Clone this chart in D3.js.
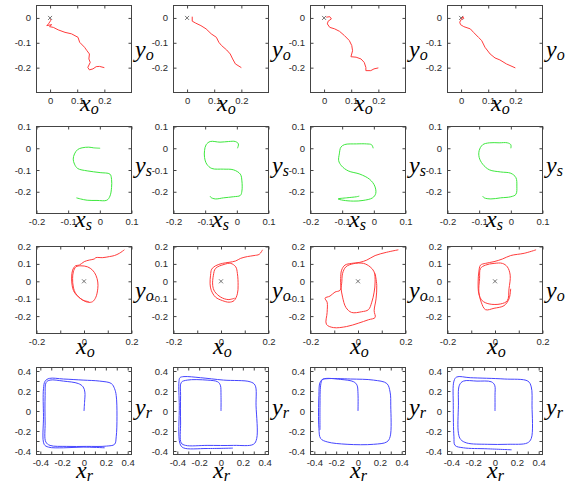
<!DOCTYPE html>
<html>
<head>
<meta charset="utf-8">
<script src="https://cdn.jsdelivr.net/npm/d3@7"></script>
<style>
  body { margin: 0; background: #fff; }
  .mathlabel { font-family: "Liberation Serif", serif; font-style: italic; }
</style>
</head>
<body>
<svg width="571" height="482"></svg>
<script>
// row 1: object position y_o vs x_o (four trials)
const objPath1 = [[0.002,-0.005],[0.002,-0.011],[-0.006,-0.024],[-0.012,-0.031],[0.006,-0.027],[-0.002,-0.035],[0.012,-0.038],[0.030,-0.048],[0.055,-0.058],[0.079,-0.064],[0.103,-0.078],[0.109,-0.098],[0.127,-0.118],[0.136,-0.132],[0.145,-0.145],[0.143,-0.165],[0.148,-0.179],[0.139,-0.199],[0.145,-0.209],[0.158,-0.205],[0.170,-0.196],[0.182,-0.195],[0.200,-0.200]];
const objPath2 = [[0.019,0.005],[0.019,-0.013],[0.032,-0.021],[0.051,-0.031],[0.070,-0.044],[0.089,-0.064],[0.108,-0.078],[0.117,-0.098],[0.127,-0.111],[0.146,-0.129],[0.159,-0.145],[0.168,-0.165],[0.178,-0.185],[0.200,-0.200]];
const objPath3 = [[0.008,0.003],[0.021,0.005],[0.027,-0.004],[0.015,-0.013],[0.012,-0.024],[0.021,-0.038],[0.039,-0.044],[0.057,-0.054],[0.075,-0.071],[0.093,-0.091],[0.102,-0.111],[0.105,-0.132],[0.099,-0.156],[0.118,-0.158],[0.136,-0.165],[0.148,-0.179],[0.154,-0.199],[0.154,-0.212],[0.172,-0.212],[0.184,-0.205],[0.200,-0.201]];
const objPath4 = [[0.010,-0.004],[0.007,0.005],[0.002,-0.004],[-0.005,-0.017],[-0.002,-0.027],[0.010,-0.035],[0.034,-0.044],[0.046,-0.058],[0.064,-0.078],[0.076,-0.091],[0.088,-0.118],[0.107,-0.145],[0.125,-0.161],[0.143,-0.169],[0.167,-0.185],[0.200,-0.201]];

// row 2: drawn shape y_s vs x_s
const shapePath1 = [[0.001,0],[-0.020,0.002],[-0.035,0.005],[-0.056,0.002],[-0.070,-0.006],[-0.080,-0.026],[-0.084,-0.050],[-0.080,-0.073],[-0.070,-0.093],[-0.040,-0.104],[0.001,-0.112],[0.032,-0.119],[0.037,-0.143],[0.037,-0.181],[0.032,-0.220],[0.022,-0.239],[-0.009,-0.240],[-0.040,-0.239],[-0.061,-0.233],[-0.074,-0.228]];
const shapePath2 = [[0.002,0],[0.005,0.020],[-0.005,0.031],[-0.026,0.031],[-0.053,0.028],[-0.084,0.031],[-0.097,0.016],[-0.102,-0.011],[-0.102,-0.042],[-0.095,-0.073],[-0.079,-0.093],[-0.042,-0.096],[-0.011,-0.099],[0.011,-0.119],[0.016,-0.150],[0.016,-0.197],[0.011,-0.217],[-0.011,-0.223],[-0.042,-0.228],[-0.068,-0.233],[-0.082,-0.226],[-0.084,-0.220]];
const shapePath3 = [[-0.002,0],[-0.007,0.016],[-0.023,0.020],[-0.055,0.020],[-0.092,0.017],[-0.104,0.005],[-0.109,-0.026],[-0.111,-0.057],[-0.102,-0.081],[-0.081,-0.104],[-0.044,-0.119],[-0.013,-0.143],[0.003,-0.174],[0.006,-0.208],[-0.004,-0.228],[-0.034,-0.240],[-0.065,-0.243],[-0.097,-0.239],[-0.113,-0.233],[-0.086,-0.228],[-0.055,-0.223],[-0.046,-0.220]];
const shapePath4 = [[0,0],[0,0.016],[-0.011,0.025],[-0.037,0.025],[-0.068,0.025],[-0.089,0.016],[-0.100,-0.011],[-0.100,-0.042],[-0.089,-0.073],[-0.068,-0.099],[-0.032,-0.109],[0,-0.115],[0.016,-0.135],[0.019,-0.174],[0.016,-0.212],[0,-0.223],[-0.032,-0.228],[-0.063,-0.233],[-0.084,-0.228],[-0.089,-0.220]];

// row 3: object position y_o vs x_o, circular motion
const loopPath1 = [[0.170,0.181],[0.149,0.161],[0.128,0.148],[0.107,0.142],[0.079,0.136],[0.050,0.136],[0.043,0.128],[0.022,0.122],[0.001,0.113],[-0.020,0.093],[-0.036,0.089],[-0.048,0.064],[-0.052,0.025],[-0.050,-0.023],[-0.041,-0.062],[-0.013,-0.101],[0.015,-0.120],[0.036,-0.117],[0.050,-0.091],[0.058,-0.043],[0.058,-0.004],[0.050,0.035],[0.036,0.064],[0.015,0.083],[-0.013,0.089],[-0.034,0.083],[-0.045,0.054],[-0.048,0.016],[-0.045,-0.033],[-0.034,-0.072],[-0.006,-0.107],[0.020,-0.117]];
const loopPath2 = [[0.175,0.181],[0.161,0.155],[0.139,0.148],[0.111,0.142],[0.083,0.132],[0.062,0.117],[0.034,0.109],[0.006,0.103],[-0.023,0.089],[-0.039,0.070],[-0.044,0.035],[-0.046,-0.014],[-0.041,-0.052],[-0.023,-0.091],[0.006,-0.111],[0.034,-0.120],[0.055,-0.111],[0.069,-0.072],[0.072,-0.023],[0.069,0.045],[0.062,0.083],[0.041,0.103],[0.013,0.097],[-0.023,0.074],[-0.032,0.035],[-0.035,-0.023],[-0.027,-0.058],[-0.001,-0.091],[0.030,-0.105],[0.058,-0.097]];
const loopPath3 = [[0.170,0.181],[0.121,0.167],[0.072,0.148],[0.037,0.122],[0.008,0.109],[-0.027,0.103],[-0.055,0.093],[-0.069,0.064],[-0.073,0.016],[-0.072,-0.033],[-0.065,-0.091],[-0.051,-0.150],[-0.027,-0.179],[0.015,-0.175],[0.044,-0.163],[0.058,-0.120],[0.068,-0.062],[0.072,-0.004],[0.068,0.054],[0.051,0.083],[0.023,0.103],[-0.020,0.101],[-0.051,0.083],[-0.065,0.045],[-0.069,-0.014],[-0.076,-0.052],[-0.097,-0.062],[-0.118,-0.085],[-0.139,-0.097],[-0.130,-0.120],[-0.130,-0.179],[-0.133,-0.247],[-0.104,-0.266],[-0.048,-0.260],[0.001,-0.241],[0.044,-0.221],[0.072,-0.208],[0.068,-0.169],[0.076,-0.101],[0.079,-0.023],[0.072,0.045]];
const loopPath4 = [[0.173,0.181],[0.123,0.161],[0.066,0.148],[0.031,0.128],[-0.004,0.113],[-0.040,0.103],[-0.061,0.093],[-0.068,0.054],[-0.071,-0.004],[-0.068,-0.072],[-0.054,-0.111],[-0.025,-0.130],[0.024,-0.130],[0.052,-0.111],[0.059,-0.043],[0.064,0.035],[0.052,0.083],[0.031,0.103],[-0.004,0.103],[-0.040,0.093],[-0.061,0.074],[-0.065,0.016],[-0.068,-0.062],[-0.058,-0.120],[-0.040,-0.163],[-0.004,-0.155],[0.038,-0.140],[0.059,-0.101],[0.066,-0.043]];

// row 4: robot position y_r vs x_r
const robotPath1 = [[0,0],[0.005,0.086],[0.008,0.189],[-0.008,0.241],[-0.053,0.275],[-0.189,0.299],[-0.311,0.309],[-0.347,0.285],[-0.356,0.155],[-0.356,-0.120],[-0.350,-0.309],[-0.311,-0.344],[-0.159,-0.354],[0.023,-0.354],[0.205,-0.351],[0.280,-0.333],[0.295,-0.258],[0.302,-0.052],[0.295,0.155],[0.280,0.223],[0.250,0.275],[0.144,0.299],[-0.008,0.309],[-0.189,0.320],[-0.317,0.326],[-0.356,0.299],[-0.371,0.223],[-0.371,-0.052],[-0.365,-0.333],[-0.326,-0.361],[-0.189,-0.368],[-0.008,-0.361],[0.189,-0.368]];
const robotPath2 = [[0,0],[0,0.155],[-0.006,0.258],[-0.030,0.292],[-0.127,0.309],[-0.309,0.309],[-0.364,0.285],[-0.370,0.155],[-0.370,-0.120],[-0.364,-0.320],[-0.324,-0.344],[-0.127,-0.344],[0.115,-0.344],[0.297,-0.333],[0.327,-0.275],[0.321,0.052],[0.312,0.258],[0.267,0.292],[0.024,0.309],[-0.188,0.333],[-0.339,0.344],[-0.376,0.333],[-0.385,0.292],[-0.382,0.052],[-0.376,-0.326],[-0.345,-0.368],[-0.127,-0.375],[0.109,-0.371]];
const robotPath3 = [[0,0],[0,0.172],[-0.009,0.258],[-0.039,0.292],[-0.161,0.316],[-0.318,0.320],[-0.348,0.285],[-0.358,0.155],[-0.358,-0.172],[-0.342,-0.275],[-0.282,-0.309],[-0.100,-0.333],[0.142,-0.333],[0.264,-0.309],[0.294,-0.258],[0.300,0.052],[0.294,0.189],[0.264,0.275],[0.142,0.309],[-0.070,0.320],[-0.282,0.323],[-0.327,0.313],[-0.342,0.258],[-0.348,0.052],[-0.348,-0.189]];
const robotPath4 = [[0,0],[0,0.155],[-0.003,0.258],[-0.034,0.292],[-0.165,0.299],[-0.289,0.299],[-0.326,0.258],[-0.335,0.052],[-0.335,-0.223],[-0.314,-0.285],[-0.258,-0.320],[-0.071,-0.333],[0.115,-0.333],[0.295,-0.320],[0.332,-0.275],[0.339,0.052],[0.332,0.241],[0.301,0.299],[0.084,0.320],[-0.227,0.333],[-0.351,0.340],[-0.376,0.299],[-0.382,0.052],[-0.376,-0.258],[-0.366,-0.344],[-0.289,-0.368],[-0.071,-0.378],[0.152,-0.388]];

// ticks and their labels
const objXTicks = [0, 0.1, 0.2];
const objYTicks = [0, -0.1, -0.2];
const shapeXTicks = [-0.2, -0.1, 0, 0.1];
const shapeYTicks = [0.1, 0, -0.1, -0.2];
const loopXTicks = [-0.2, -0.1, 0, 0.1, 0.2];
const loopXLabels = [-0.2, 0, 0.2];
const loopYTicks = [0.2, 0.1, 0, -0.1, -0.2];
const robotTicks = [-0.4, -0.3, -0.2, -0.1, 0, 0.1, 0.2, 0.3, 0.4];
const robotLabels = [-0.4, -0.2, 0, 0.2, 0.4];

const rows = [
  {paths: [objPath1, objPath2, objPath3, objPath4], color: '#ff3c3c', x: [-0.05, 0.3], y: [-0.3, 0.05],
   xt: objXTicks, xl: objXTicks, yt: objYTicks, yl: objYTicks, sub: 'o', cross: true},
  {paths: [shapePath1, shapePath2, shapePath3, shapePath4], color: '#3ee83e', x: [-0.2, 0.1], y: [-0.3, 0.1],
   xt: shapeXTicks, xl: shapeXTicks, yt: shapeYTicks, yl: shapeYTicks, sub: 's', cross: false},
  {paths: [loopPath1, loopPath2, loopPath3, loopPath4], color: '#ff3c3c', x: [-0.2, 0.2], y: [-0.3, 0.2],
   xt: loopXTicks, xl: loopXLabels, yt: loopYTicks, yl: loopYTicks, sub: 'o', cross: true},
  {paths: [robotPath1, robotPath2, robotPath3, robotPath4], color: '#4646ff', x: [-0.435, 0.435], y: [-0.435, 0.435],
   xt: robotTicks, xl: robotLabels, yt: robotTicks, yl: robotLabels, sub: 'r', cross: false}
];

// layout
const colLeft = [36.5, 173.5, 310.5, 447.5];
const rowTop = [5.5, 126.5, 246.5, 367.5];
const boxW = 95, boxH = 87;
const xLabelDy = [18, 13.5, 20, 23];   // baseline below the box
const xLabelDx = [-4, -9, -8, -8];     // start relative to box centre
const yLabelDy = [7.5, 3, 8, 3.5];     // baseline relative to box middle

const svg = d3.select('svg');
const fmt = v => String(+v.toFixed(2));
const only = list => v => list.some(l => Math.abs(l - v) < 1e-9) ? fmt(v) : '';

function styleAxis(sel) {
  sel.attr('font-size', 9.5)
    .attr('font-family', 'Liberation Sans, Arial, sans-serif')
    .attr('color', '#444');
  sel.selectAll('text').attr('fill', '#2a2a2a');
  sel.select('.domain').remove();
}

function axisLabel(g, x, y, name, sub) {
  const t = g.append('text')
    .attr('class', 'mathlabel')
    .attr('x', x).attr('y', y)
    .style('font-size', '24px')
    .attr('fill', '#000');
  t.append('tspan').text(name);
  t.append('tspan').style('font-size', '16px').attr('dy', 3).text(sub);
}

rows.forEach((r, ri) => {
  r.paths.forEach((data, ci) => {
    const g = svg.append('g').attr('transform', `translate(${colLeft[ci]},${rowTop[ri]})`);
    const x = d3.scaleLinear().domain(r.x).range([0, boxW]);
    const y = d3.scaleLinear().domain(r.y).range([boxH, 0]);

    g.append('g').attr('transform', `translate(0,${boxH})`)
      .call(d3.axisBottom(x).tickValues(r.xt).tickFormat(only(r.xl)).tickSizeInner(-3).tickSizeOuter(0).tickPadding(4.5))
      .call(styleAxis);
    g.append('g')
      .call(d3.axisTop(x).tickValues(r.xt).tickFormat(() => '').tickSizeInner(-3).tickSizeOuter(0))
      .call(styleAxis);
    g.append('g')
      .call(d3.axisLeft(y).tickValues(r.yt).tickFormat(only(r.yl)).tickSizeInner(-3).tickSizeOuter(0).tickPadding(5.5))
      .call(styleAxis);
    g.append('g').attr('transform', `translate(${boxW},0)`)
      .call(d3.axisRight(y).tickValues(r.yt).tickFormat(() => '').tickSizeInner(-3).tickSizeOuter(0))
      .call(styleAxis);

    g.append('rect')
      .attr('width', boxW).attr('height', boxH)
      .attr('fill', 'none').attr('stroke', '#444').attr('stroke-width', 1);

    if (r.cross) {
      const cx = x(0), cy = y(0);
      g.append('path')
        .attr('d', `M${cx - 2},${cy - 2}L${cx + 2},${cy + 2}M${cx - 2},${cy + 2}L${cx + 2},${cy - 2}`)
        .attr('stroke', '#666').attr('stroke-width', 0.9).attr('fill', 'none');
    }

    const line = d3.line()
      .x(d => x(d[0]))
      .y(d => y(d[1]))
      .curve(ri === 0 ? d3.curveLinear : d3.curveCatmullRom.alpha(0.5));
    g.append('path')
      .attr('d', line(data))
      .attr('fill', 'none')
      .attr('stroke', r.color)
      .attr('stroke-width', 1)
      .attr('stroke-linejoin', 'round');

    axisLabel(g, boxW / 2 + xLabelDx[ri], boxH + xLabelDy[ri], 'x', r.sub);
    axisLabel(g, boxW + 3.5, boxH / 2 + yLabelDy[ri], 'y', r.sub);
  });
});
</script>
</body>
</html>
